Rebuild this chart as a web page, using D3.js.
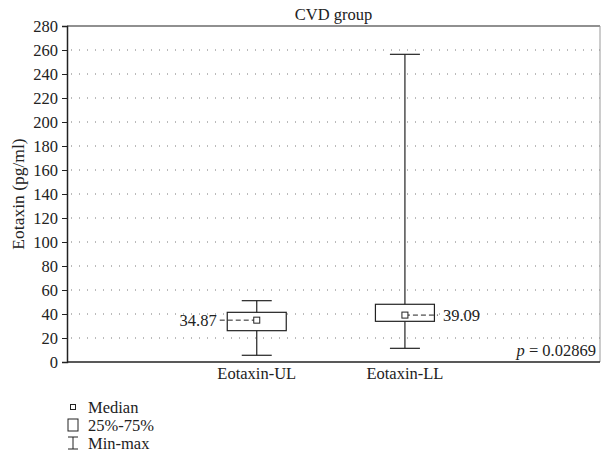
<!DOCTYPE html>
<html>
<head>
<meta charset="utf-8">
<script src="https://cdn.jsdelivr.net/npm/d3@7"></script>
<style>
  body { margin: 0; background: #fff; }
  text { font-family: "Liberation Serif", "DejaVu Serif", serif; fill: #222; }
</style>
</head>
<body>
<div id="chart"></div>
<script>
// data
const categories = ["Eotaxin-UL", "Eotaxin-LL"];
const mins = [5.6, 11.4];
const q1s = [26.1, 33.9];
const medians = [34.87, 39.09];
const q3s = [41.4, 48.1];
const maxs = [51.1, 256.4];
const yTicks = [0, 20, 40, 60, 80, 100, 120, 140, 160, 180, 200, 220, 240, 260, 280];
const legendItems = ["Median", "25%-75%", "Min-max"];

const svgWidth = 611;
const svgHeight = 464;
const margins = { top: 26, right: 11, bottom: 102, left: 67 };
const chartWidth = svgWidth - margins.left - margins.right;
const chartHeight = svgHeight - margins.top - margins.bottom;

const svg = d3.select("#chart")
    .append("svg")
    .attr("width", svgWidth)
    .attr("height", svgHeight);

const chartGroup = svg.append("g")
    .attr("transform", `translate(${margins.left}, ${margins.top})`);

const yScale = d3.scaleLinear().domain([0, 280]).range([chartHeight, 0]);
const xScale = d3.scalePoint()
    .domain(categories)
    .range([chartWidth * 0.356, chartWidth * 0.634]);

// dotted grid
chartGroup.selectAll(".grid")
    .data(yTicks.filter(t => t > 0 && t < 280))
    .enter()
    .append("line")
    .attr("x1", 4)
    .attr("x2", chartWidth)
    .attr("y1", d => yScale(d))
    .attr("y2", d => yScale(d))
    .attr("stroke", "#777")
    .attr("stroke-width", 1)
    .attr("stroke-dasharray", "1,7");

// frame
chartGroup.append("line")
    .attr("x1", 0).attr("x2", chartWidth)
    .attr("y1", 0).attr("y2", 0)
    .attr("stroke", "#222").attr("stroke-width", 1.2);
chartGroup.append("line")
    .attr("x1", chartWidth).attr("x2", chartWidth)
    .attr("y1", 0).attr("y2", chartHeight)
    .attr("stroke", "#999").attr("stroke-width", 1);

// y axis
const leftAxis = d3.axisLeft(yScale).tickValues(yTicks).tickSize(5).tickPadding(4);
const yAxis = chartGroup.append("g").call(leftAxis);
yAxis.select(".domain").attr("stroke", "#222").attr("stroke-width", 1.5);
yAxis.selectAll(".tick line").attr("stroke", "#222");
yAxis.selectAll("text")
    .style("font-size", "16.5px")
    .style("font-family", "'Liberation Serif', serif")
    .attr("fill", "#222");

// x axis line
chartGroup.append("line")
    .attr("x1", 0).attr("x2", chartWidth)
    .attr("y1", chartHeight).attr("y2", chartHeight)
    .attr("stroke", "#222").attr("stroke-width", 1.5);

// x labels
chartGroup.selectAll(".xlab")
    .data(categories)
    .enter()
    .append("text")
    .attr("x", d => xScale(d))
    .attr("y", chartHeight + 17)
    .attr("text-anchor", "middle")
    .style("font-size", "16.5px")
    .text(d => d);

// box plots
const boxW = 59;
const capW = 30;
const boxes = categories.map((c, i) => ({
    cat: c, min: mins[i], q1: q1s[i], med: medians[i], q3: q3s[i], max: maxs[i], i: i
}));

const bg = chartGroup.selectAll(".box")
    .data(boxes)
    .enter()
    .append("g");

bg.append("line")
    .attr("x1", d => xScale(d.cat)).attr("x2", d => xScale(d.cat))
    .attr("y1", d => yScale(d.min)).attr("y2", d => yScale(d.max))
    .attr("stroke", "#222").attr("stroke-width", 1.2);

bg.append("line")
    .attr("x1", d => xScale(d.cat) - capW / 2).attr("x2", d => xScale(d.cat) + capW / 2)
    .attr("y1", d => yScale(d.max)).attr("y2", d => yScale(d.max))
    .attr("stroke", "#222").attr("stroke-width", 1.2);
bg.append("line")
    .attr("x1", d => xScale(d.cat) - capW / 2).attr("x2", d => xScale(d.cat) + capW / 2)
    .attr("y1", d => yScale(d.min)).attr("y2", d => yScale(d.min))
    .attr("stroke", "#222").attr("stroke-width", 1.2);

bg.append("rect")
    .attr("x", d => xScale(d.cat) - boxW / 2)
    .attr("width", boxW)
    .attr("y", d => yScale(d.q3))
    .attr("height", d => yScale(d.q1) - yScale(d.q3))
    .attr("fill", "#fff")
    .attr("stroke", "#222")
    .attr("stroke-width", 1.2);

// median dashed leader + label
bg.append("line")
    .attr("x1", d => xScale(d.cat))
    .attr("x2", d => d.i === 0 ? xScale(d.cat) - 38 : xScale(d.cat) + 33)
    .attr("y1", d => yScale(d.med)).attr("y2", d => yScale(d.med))
    .attr("stroke", "#222").attr("stroke-width", 1)
    .attr("stroke-dasharray", "5,3");

bg.append("rect")
    .attr("x", d => xScale(d.cat) - 3)
    .attr("y", d => yScale(d.med) - 3)
    .attr("width", 6).attr("height", 6)
    .attr("fill", "#fff").attr("stroke", "#222").attr("stroke-width", 1);

bg.append("text")
    .attr("x", d => d.i === 0 ? xScale(d.cat) - 40 : xScale(d.cat) + 38)
    .attr("y", d => yScale(d.med))
    .attr("dy", "0.35em")
    .attr("text-anchor", d => d.i === 0 ? "end" : "start")
    .style("font-size", "16.5px")
    .text(d => d.med.toFixed(2));

// title
chartGroup.append("text")
    .attr("x", chartWidth / 2)
    .attr("y", -6)
    .attr("text-anchor", "middle")
    .style("font-size", "16.5px")
    .text("CVD group");

// p value
const pText = chartGroup.append("text")
    .attr("x", chartWidth - 4)
    .attr("y", chartHeight - 6)
    .attr("text-anchor", "end")
    .style("font-size", "16.5px");
pText.append("tspan").style("font-style", "italic").text("p");
pText.append("tspan").text(" = 0.02869");

// y axis title
svg.append("text")
    .attr("transform", "rotate(-90)")
    .attr("x", -194)
    .attr("y", 24)
    .attr("text-anchor", "middle")
    .style("font-size", "17.5px")
    .text("Eotaxin (pg/ml)");

// legend
const legend = svg.append("g").attr("transform", "translate(73, 407)");
legendItems.forEach((item, i) => {
    const g = legend.append("g").attr("transform", `translate(0, ${i * 18})`);
    if (i === 0) {
        g.append("rect").attr("x", -2.5).attr("y", -2.5).attr("width", 5).attr("height", 5)
            .attr("fill", "#fff").attr("stroke", "#222");
    } else if (i === 1) {
        g.append("rect").attr("x", -5).attr("y", -6).attr("width", 10).attr("height", 12)
            .attr("fill", "#fff").attr("stroke", "#222");
    } else {
        g.append("line").attr("x1", -5).attr("x2", 5).attr("y1", -6).attr("y2", -6).attr("stroke", "#222");
        g.append("line").attr("x1", 0).attr("x2", 0).attr("y1", -6).attr("y2", 6).attr("stroke", "#222");
        g.append("line").attr("x1", -5).attr("x2", 5).attr("y1", 6).attr("y2", 6).attr("stroke", "#222");
    }
    g.append("text")
        .attr("x", 15)
        .attr("y", 0)
        .attr("dy", "0.35em")
        .style("font-size", "16.5px")
        .text(item);
});
</script>
</body>
</html>
